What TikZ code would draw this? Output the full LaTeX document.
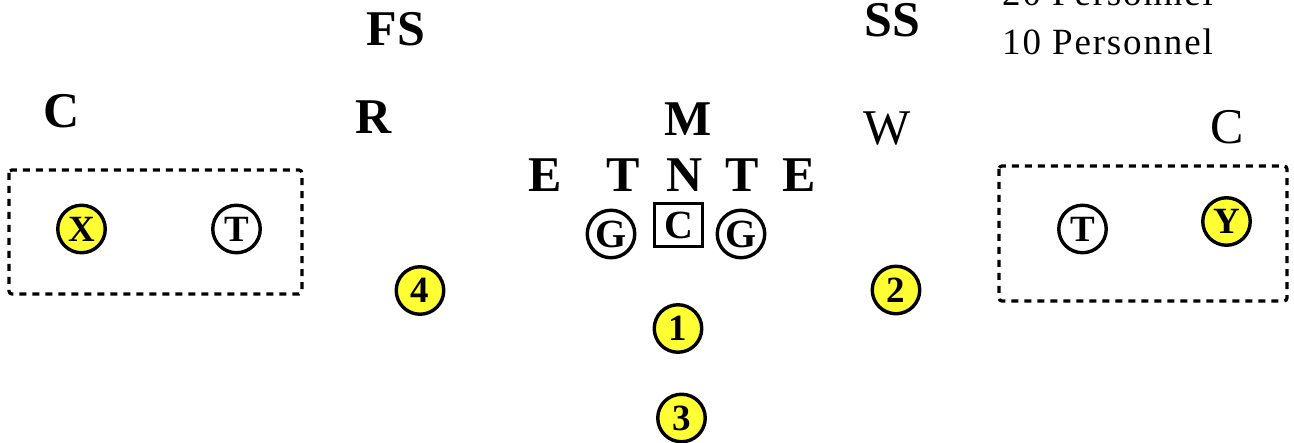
\documentclass[tikz,border=0pt]{standalone}
\usepackage{fontspec}
\setmainfont{Liberation Serif}
\begin{document}
\begin{tikzpicture}[x=1pt,y=-1pt,
  lbl/.style={font=\fontsize{50}{50}\selectfont\bfseries, anchor=base, inner sep=0pt},
  rlbl/.style={font=\fontsize{50}{50}\selectfont, anchor=base, inner sep=0pt},
  player/.style={circle, draw=black, line width=3.4pt, minimum size=47.5pt, inner sep=0pt,
    font=\fontsize{37}{37}\selectfont\bfseries},
  skill/.style={player, fill=yellowfill},
  center/.style={rectangle, draw=black, line width=3.4pt, minimum width=47.5pt, minimum height=42.5pt,
    inner sep=0pt, font=\fontsize{40}{40}\selectfont\bfseries},
  zone/.style={draw=black, line width=3.2pt, dash pattern=on 7pt off 6pt, rounded corners=3pt},
  pers/.style={font=\fontsize{37}{37}\selectfont\addfontfeature{LetterSpace=5}, anchor=base west, inner sep=0pt}
]
\definecolor{yellowfill}{RGB}{255,255,51}
\fill[white] (0,0) rectangle (1294,443);
\useasboundingbox (0,0) rectangle (1294,443);

% defenders
\node[lbl] (fs) at (396,46) {FS};
\node[lbl] (ss) at (892,37) {SS};
\node[lbl] (cl) at (62,128) {C};
\node[lbl] (r) at (374,134) {R};
\node[lbl] (m) at (688,136) {M};
\node[rlbl] (w) at (887,145) {W};
\node[rlbl] (cr) at (1227,144) {C};
\node[lbl] (e1) at (545,192) {E};
\node[lbl] (t1) at (623,192) {T};
\node[lbl] (n) at (685,192) {N};
\node[lbl] (t2) at (742,192) {T};
\node[lbl] (e2) at (799,192) {E};

% personnel
\node[pers] (p20) at (1002,6) {20 Personnel};
\node[pers] (p10) at (1002,55) {10 Personnel};

% zones
\draw[zone] (9,170) rectangle (302,294);
\draw[zone] (999,166) rectangle (1287,301);

% offense
\node[player, font=\fontsize{40}{40}\selectfont\bfseries] (g1) at (611,234) {G};
\node[center] (c) at (678.5,225) {C};
\node[player, font=\fontsize{40}{40}\selectfont\bfseries] (g2) at (741,234) {G};
\node[skill] (x) at (81.5,229) {X};
\node[player] (tl) at (236.5,229) {T};
\node[player] (tr) at (1082.5,229) {T};
\node[skill] (y) at (1226.5,221.5) {Y};
\node[skill] (s4) at (420,290.5) {4};
\node[skill] (s2) at (896,290) {2};
\node[skill] (s1) at (678,328.5) {1};
\node[skill] (s3) at (681.5,418) {3};
\end{tikzpicture}
\end{document}
